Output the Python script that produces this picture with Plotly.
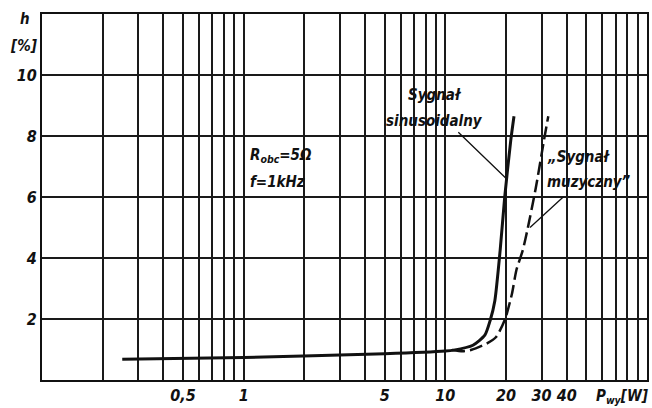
import math
import plotly.graph_objects as go

# Data
sin_x = [0.25, 1, 5, 10, 11.0, 13.7, 15.7, 16.7, 17.6, 18.7, 19.7, 21.1, 21.9]
sin_y = [0.68, 0.74, 0.86, 0.95, 0.98, 1.14, 1.47, 1.96, 2.6, 4.25, 6.0, 7.85, 8.65]

mus_x = [10.8, 12.2, 13.5, 16.1, 17.9, 19.8, 21.4, 22.5, 24.2, 25.6, 28.1, 30.8, 32.4]
mus_y = [0.98, 0.94, 0.99, 1.2, 1.42, 2.0, 2.83, 3.6, 4.25, 4.96, 6.3, 7.84, 8.65]

x_grid = [0.2, 0.3, 0.4, 0.5, 0.6, 0.7, 0.8, 0.9,
          1, 2, 3, 4, 5, 6, 7, 8, 9,
          10, 20, 30, 40, 50, 60, 70, 80, 90]
x_labels = {0.5: "0,5", 1: "1", 5: "5", 10: "10", 20: "20", 30: "30", 40: "40"}
y_ticks = [2, 4, 6, 8, 10]

FONT = "DejaVu Sans Condensed, Liberation Sans Narrow, Arial"
INK = "#111"

fig = go.Figure()
fig.add_trace(go.Scatter(x=sin_x, y=sin_y, mode="lines",
                         line=dict(color=INK, width=3, shape="spline", smoothing=0.6),
                         showlegend=False))
fig.add_trace(go.Scatter(x=mus_x, y=mus_y, mode="lines",
                         line=dict(color=INK, width=2.5, dash="13px,5px", shape="spline", smoothing=0.6),
                         showlegend=False))

tickfont = dict(family=FONT, size=16, color=INK, style="italic", weight="bold")

fig.update_xaxes(type="log", range=[-1, 2],
                 tickmode="array", tickvals=x_grid,
                 ticktext=[x_labels.get(v, " ") for v in x_grid],
                 tickangle=0, automargin=False,
                 showgrid=True, gridcolor="#1a1a1a", gridwidth=1.6,
                 showline=True, linecolor=INK, linewidth=2.2, mirror=True,
                 ticks="", tickfont=tickfont, zeroline=False)
fig.update_yaxes(range=[0, 12], tickmode="array", tickvals=y_ticks,
                 ticktext=[str(v) for v in y_ticks], automargin=False,
                 showgrid=True, gridcolor="#1a1a1a", gridwidth=1.6,
                 showline=True, linecolor=INK, linewidth=2.2, mirror=True,
                 ticks="", tickfont=tickfont, zeroline=False)

afont = dict(family=FONT, size=15, color=INK, style="italic", weight="bold")
annotations = [
    dict(x=-0.028, y=0.985, xref="paper", yref="paper", text="h", showarrow=False,
         font=afont, xanchor="center", yanchor="middle"),
    dict(x=-0.030, y=0.912, xref="paper", yref="paper", text="[%]", showarrow=False,
         font=afont, xanchor="center", yanchor="middle"),
    dict(x=1.007, y=-0.045, xref="paper", yref="paper",
         text="P<sub>wy</sub>[W]", showarrow=False,
         font=dict(family=FONT, size=15, color=INK, style="italic", weight="bold"),
         xanchor="right", yanchor="middle"),
    dict(x=8.88, y=9.35, text="Sygnał", showarrow=False, font=afont,
         xanchor="center", yanchor="middle"),
    dict(x=8.88, y=8.5, text="sinusoidalny", showarrow=False, font=afont,
         xanchor="center", yanchor="middle"),
    dict(x=31.2, y=7.3, text="„Sygnał", showarrow=False, font=afont,
         xanchor="left", yanchor="middle"),
    dict(x=31.2, y=6.5, text="muzyczny”", showarrow=False, font=afont,
         xanchor="left", yanchor="middle"),
    dict(x=1.05, y=7.35, text="R<sub>obc</sub>=5Ω", showarrow=False, font=afont,
         xanchor="left", yanchor="middle"),
    dict(x=1.05, y=6.5, text="f=1kHz", showarrow=False, font=afont,
         xanchor="left", yanchor="middle"),
    # leader lines
    dict(x=20.1, y=6.6, ax=11.4, ay=8.17, xref="x", yref="y", axref="x", ayref="y",
         text="", showarrow=True, arrowhead=0, arrowwidth=1.3, arrowcolor=INK),
    dict(x=26.3, y=5.0, ax=39.2, ay=6.05, xref="x", yref="y", axref="x", ayref="y",
         text="", showarrow=True, arrowhead=0, arrowwidth=1.3, arrowcolor=INK),
]
# log x axis: annotation positions in data coords use log10
for a in annotations:
    if a.get("xref", "x") == "x":
        a["x"] = math.log10(a["x"])
        if "ax" in a:
            a["ax"] = math.log10(a["ax"])

fig.update_layout(width=652, height=408,
                  margin=dict(l=42, r=5, t=14, b=28),
                  paper_bgcolor="white", plot_bgcolor="white",
                  annotations=annotations)

fig.write_html("out.html")
